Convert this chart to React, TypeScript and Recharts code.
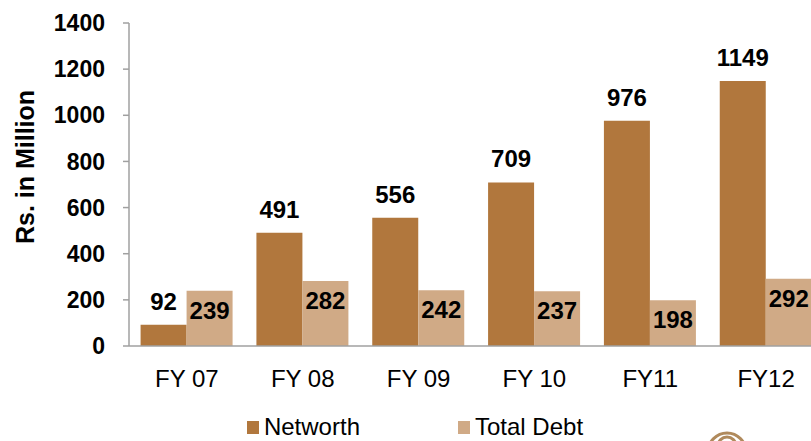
import {
  BarChart,
  Bar,
  XAxis,
  YAxis,
  Legend,
  LabelList,
} from "recharts";

// ── Data ────────────────────────────────────────────────────────────────
const years = ["FY 07", "FY 08", "FY 09", "FY 10", "FY11", "FY12"];
const networth = [92, 491, 556, 709, 976, 1149];
const totalDebt = [239, 282, 242, 237, 198, 292];
const yTicks = [0, 200, 400, 600, 800, 1000, 1200, 1400];

const rows = years.map((fy, i) => ({
  fy,
  networth: networth[i],
  debt: totalDebt[i],
}));

const FONT = "Arial, 'Liberation Sans', sans-serif";
const BROWN = "#B1773D";
const TAN = "#D0AA86";
const AXIS = "#A0A0A0";

// ── Legend ──────────────────────────────────────────────────────────────
function LegendBox() {
  const item = (color: string, text: string) => (
    <span style={{ display: "inline-flex", alignItems: "center" }}>
      <span
        style={{
          display: "inline-block",
          width: 12,
          height: 13,
          background: color,
          marginRight: 5,
        }}
      />
      {text}
    </span>
  );
  return (
    <div
      style={{
        display: "flex",
        justifyContent: "center",
        gap: 98,
        fontFamily: FONT,
        fontSize: 24,
        color: "#000",
        lineHeight: "26px",
      }}
    >
      {item(BROWN, "Networth")}
      {item(TAN, "Total Debt")}
    </div>
  );
}

export default function App() {
  return (
    <div
      style={{
        position: "absolute",
        left: 0,
        top: 0,
        width: 811,
        height: 441,
        overflow: "hidden",
        background: "#fff",
      }}
    >
      <BarChart
        width={830}
        height={441}
        data={rows}
        margin={{ top: 23, right: 6, bottom: 55, left: 0 }}
        barCategoryGap="10%"
        barGap={0}
      >
        <XAxis
          dataKey="fy"
          tickLine={false}
          tickMargin={18}
          axisLine={{ stroke: AXIS, strokeWidth: 1.5 }}
          tick={{ fill: "#000", fontSize: 24, fontFamily: FONT }}
          height={40}
          interval={0}
        />
        <YAxis
          width={129}
          domain={[0, 1400]}
          ticks={yTicks}
          tickSize={6}
          tickMargin={18}
          axisLine={{ stroke: AXIS, strokeWidth: 1.5 }}
          tickLine={{ stroke: AXIS, strokeWidth: 1.5 }}
          tick={{
            fill: "#000",
            fontSize: 23,
            fontWeight: "bold",
            fontFamily: FONT,
          }}
          label={{
            content: () => (
              <text
                x={25}
                y={167}
                transform="rotate(-90 25 167)"
                textAnchor="middle"
                dominantBaseline="central"
                fontFamily={FONT}
                fontSize={25}
                fontWeight="bold"
                fill="#000"
              >
                Rs. in Million
              </text>
            ),
          }}
        />
        <Legend
          layout="horizontal"
          verticalAlign="middle"
          align="center"
          content={() => <LegendBox />}
          wrapperStyle={{ top: 414, left: 0, width: 830 }}
        />
        <Bar dataKey="networth" fill={BROWN} isAnimationActive={false}>
          <LabelList
            dataKey="networth"
            position="top"
            offset={15}
            fill="#000"
            fontSize={24}
            fontWeight="bold"
            fontFamily={FONT}
          />
        </Bar>
        <Bar dataKey="debt" fill={TAN} isAnimationActive={false}>
          <LabelList
            dataKey="debt"
            position="insideTop"
            offset={11}
            fill="#000"
            fontSize={24}
            fontWeight="bold"
            fontFamily={FONT}
          />
        </Bar>
      </BarChart>
      {/* partial logo peeking in at the bottom edge */}
      <svg
        width={60}
        height={20}
        style={{ position: "absolute", left: 697, top: 428 }}
      >
        <circle cx={30} cy={24} r={19} fill="none" stroke="#B08A5C" strokeWidth={3} />
        <circle cx={30} cy={18} r={9} fill="none" stroke="#B08A5C" strokeWidth={3} />
      </svg>
    </div>
  );
}
